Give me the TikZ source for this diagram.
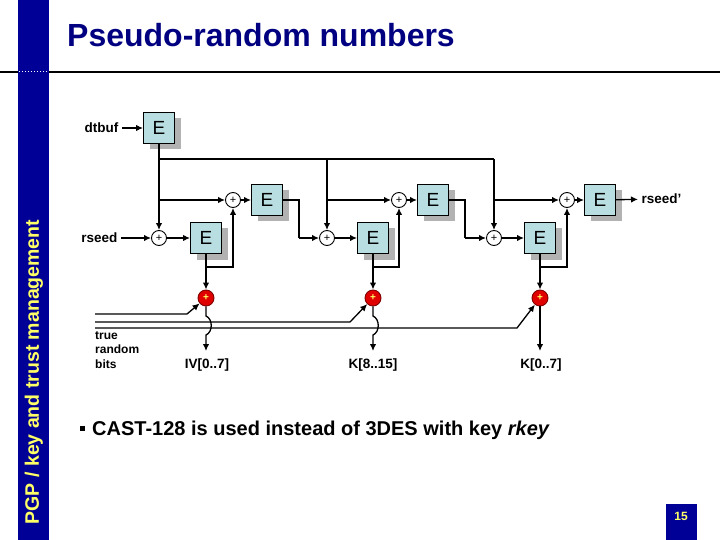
\documentclass[tikz,border=0pt]{standalone}
\usepackage{fontspec}
\setmainfont{Liberation Sans}
\usetikzlibrary{arrows.meta,shadows}

\definecolor{barblue}{RGB}{0,0,150}
\definecolor{titleblue}{RGB}{0,0,128}
\definecolor{boxcyan}{RGB}{184,222,226}
\definecolor{shadowgray}{RGB}{178,178,178}
\definecolor{labelyellow}{RGB}{255,255,102}
\definecolor{xorred}{RGB}{225,0,0}

\tikzset{
  ebox/.style={draw=black,line width=0.9pt,fill=boxcyan,minimum size=31pt,inner sep=0pt,
    font=\fontsize{19}{19}\selectfont,
    general shadow={fill=shadowgray,draw=none,shadow xshift=6pt,shadow yshift=-6pt}},
  xor/.style={circle,draw=black,line width=0.9pt,fill=white,minimum size=15pt,inner sep=0pt,
    font=\fontsize{11}{11}\selectfont},
  rxor/.style={circle,draw=red!50!black,line width=0.9pt,fill=xorred,minimum size=16pt,inner sep=0pt,
    font=\fontsize{10}{10}\selectfont\bfseries,text=labelyellow},
  lbl/.style={font=\fontsize{13.5}{16}\selectfont\bfseries},
  wire/.style={line width=1.3pt},
  bus/.style={line width=2.6pt},
  arr/.style={-{Latex[length=7pt,width=6.5pt]}},
}

\begin{document}
\begin{tikzpicture}[x=1pt,y=-1pt]
\useasboundingbox (0,0) rectangle (720,540);
% slide frame
\draw[line width=1.8pt] (0,72) -- (720,72);
\fill[barblue] (18,0) rectangle (49,540);
\draw[white,dotted,line width=1pt] (19,72) -- (48,72);
\node[anchor=base west,inner sep=0pt,text=titleblue,
  font=\fontsize{32}{32}\selectfont\bfseries] (title) at (67,47) {Pseudo-random numbers};
\node[rotate=90,text=labelyellow,font=\fontsize{19.5}{20}\selectfont\bfseries]
  (side) at (34,372) {PGP / key and trust management};
\fill[barblue] (666,504) rectangle (697,540);
\node[text=labelyellow,font=\fontsize{12}{12}\selectfont\bfseries] (page) at (681,516) {15};

% cipher boxes and xors
\node[ebox] (et) at (159,128) {E};
\node[lbl,anchor=east] (dtbuf) at (122,128) {dtbuf};
\node[xor] (u1) at (233,200) {+};
\node[xor] (u2) at (399,200) {+};
\node[xor] (u3) at (567,200) {+};
\node[ebox] (eu1) at (267,200) {E};
\node[ebox] (eu2) at (433,200) {E};
\node[ebox] (eu3) at (600,200) {E};
\node[xor] (l1) at (159,238) {+};
\node[xor] (l2) at (327,238) {+};
\node[xor] (l3) at (494,238) {+};
\node[ebox] (el1) at (206,238) {E};
\node[ebox] (el2) at (373,238) {E};
\node[ebox] (el3) at (540,238) {E};
\node[rxor] (r1) at (206,298) {+};
\node[rxor] (r2) at (373,298) {+};
\node[rxor] (r3) at (540,298) {+};
\node[lbl,anchor=east] (rseed) at (121,238) {rseed};
\node[lbl,anchor=west] (rseedo) at (638,199) {rseed'};
\node[lbl] (iv) at (207,365) {IV[0..7]};
\node[lbl] (khi) at (373,365) {K[8..15]};
\node[lbl] (klo) at (541,365) {K[0..7]};
\node[anchor=north west,align=left,inner sep=0pt,
  font=\fontsize{12}{14.5}\selectfont\bfseries] (trb) at (95,331) {true\\random\\bits};

% dtbuf path
\draw[wire,arr] (dtbuf) -- (et);
\coordinate (t1) at (159,159);
\coordinate (t2) at (327,159);
\coordinate (t3) at (494,159);
\coordinate (b1) at (159,200);
\coordinate (b2) at (327,200);
\coordinate (b3) at (494,200);
\draw[wire] (t1) -- (t3);
\draw[bus,arr] (et) -- (l1);
\draw[bus,arr] (t2) -- (l2);
\draw[bus,arr] (t3) -- (l3);
\draw[bus,arr] (b1) -- (u1);
\draw[bus,arr] (b2) -- (u2);
\draw[bus,arr] (b3) -- (u3);
\draw[bus,arr] (u1) -- (eu1);
\draw[bus,arr] (u2) -- (eu2);
\draw[bus,arr] (u3) -- (eu3);

% seed chain
\draw[bus,arr] (rseed) -- (l1);
\draw[wire,arr] (l1) -- (el1);
\draw[bus,arr] (l2) -- (el2);
\draw[bus,arr] (l3) -- (el3);
\coordinate (c1) at (299,200);
\coordinate (c1b) at (299,238);
\coordinate (c2) at (465,200);
\coordinate (c2b) at (465,238);
\draw[wire] (eu1) -- (c1) -- (c1b);
\draw[bus,arr] (c1b) -- (l2);
\draw[wire] (eu2) -- (c2) -- (c2b);
\draw[bus,arr] (c2b) -- (l3);
\draw[wire,arr] (eu3) -- (rseedo);

% feedback into upper xors
\coordinate (d1) at (206,267);
\coordinate (d1r) at (233,267);
\coordinate (d2) at (373,267);
\coordinate (d2r) at (399,267);
\coordinate (d3) at (540,267);
\coordinate (d3r) at (567,267);
\draw[bus,arr] (d1) -- (d1r) -- (u1);
\draw[bus,arr] (d2) -- (d2r) -- (u2);
\draw[bus,arr] (d3) -- (d3r) -- (u3);

% outputs
\draw[wire,arr] (el1) -- (r1);
\draw[bus,arr] (el2) -- (r2);
\draw[wire,arr] (el3) -- (r3);
\coordinate (h1a) at (206,316);
\coordinate (h1b) at (206,335);
\coordinate (o1) at (206,351);
\coordinate (h2a) at (373,316);
\coordinate (h2b) at (373,335);
\coordinate (o2) at (373,351);
\coordinate (o3) at (540,351);
\draw[wire,arr] (r1) -- (h1a) .. controls (213,319) and (213,332) .. (h1b) -- (o1);
\draw[wire,arr] (r2) -- (h2a) .. controls (380,319) and (380,332) .. (h2b) -- (o2);
\draw[wire,arr] (r3) -- (o3);

% true random bits
\coordinate (s1) at (95,314);
\coordinate (k1) at (187,314);
\coordinate (s2) at (95,322);
\coordinate (k2) at (350,322);
\coordinate (s3) at (95,328);
\coordinate (k3) at (517,328);
\draw[wire,arr] (s1) -- (k1) -- (r1);
\draw[wire,arr] (s2) -- (k2) -- (r2);
\draw[wire,arr] (s3) -- (k3) -- (r3);

% note
\node[anchor=base west,inner sep=0pt,font=\fontsize{20}{24}\selectfont\bfseries]
  (note) at (80,435) {\rule[4.5pt]{5pt}{5pt}\hspace{7pt}CAST-128 is used instead of 3DES with key \textit{rkey}};
\end{tikzpicture}
\end{document}
